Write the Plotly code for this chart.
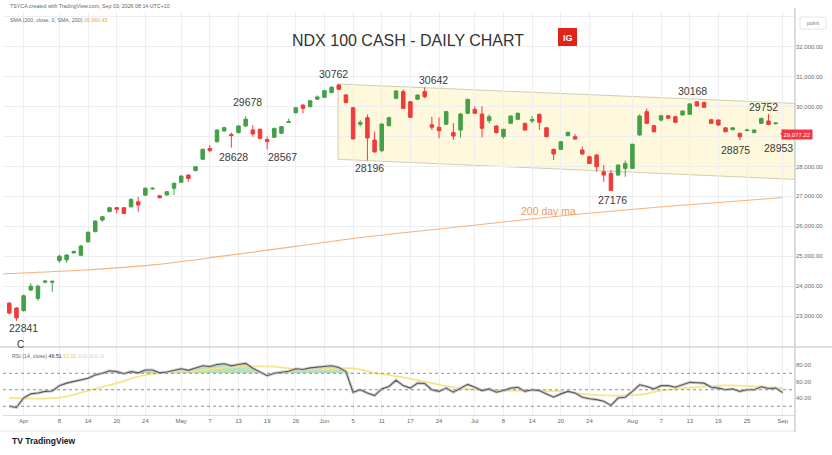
import plotly.graph_objects as go

W, H = 832, 455
GREEN = "#43a047"
RED = "#ef3b3b"

# ---------------- data ----------------
opens = [23430, 23270, 23180, 23870, 23590, 24130, 24130, 24850, 24880, 25110,
         25030, 25480, 25820, 26210, 26490, 26620, 26620, 26650, 26820, 27040,
         27250, 27020, 27045, 27270, 27470, 27712, 27860, 28240, 28600, 28825,
         29185, 29070, 29130, 29350, 29220, 29240, 28900, 28975, 29110, 29470,
         29795, 30050, 29995, 30245, 30310, 30465, 30720, 30390, 29960, 29410,
         29630, 28880, 28525, 29360, 30275, 30500, 30160, 30245, 30500, 29390,
         29310, 29410, 29130, 29215, 29775, 29910, 29750, 29530, 29350, 28995,
         29440, 29575, 29440, 29520, 29740, 29290, 28570, 28570, 29030, 28995,
         28550, 28325, 28380, 27820, 27770, 27712, 27935, 27935, 29050, 29830,
         29360, 29550, 29690, 29660, 29720, 29740, 30160, 30140, 29560, 29550,
         29290, 29230, 29105, 29200, 29130, 29440, 29520, 29430, 29110]
highs = [23470, 23300, 23720, 24100, 24050, 24200, 24190, 25050, 25060, 25180,
         25380, 25830, 26200, 26340, 26650, 26650, 26640, 26930, 26987, 27300,
         27300, 27050, 27170, 27460, 27700, 27740, 28010, 28600, 28715, 29240,
         29320, 29130, 29380, 29678, 29380, 29270, 29000, 29300, 29350, 29600,
         29980, 30080, 30210, 30370, 30560, 30680, 30762, 30420, 29980, 29540,
         29740, 29160, 29440, 29660, 30550, 30576, 30190, 30400, 30642, 29660,
         29640, 29860, 29450, 29790, 30260, 30010, 30010, 29740, 29380, 29260,
         29700, 29800, 29460, 29680, 29770, 29310, 28600, 28840, 29160, 29080,
         28660, 28350, 28420, 28045, 27880, 28070, 28200, 28760, 29740, 29940,
         29380, 29720, 29720, 29690, 29870, 30110, 30168, 30160, 29590, 29570,
         29310, 29310, 29130, 29260, 29240, 29630, 29752, 29470, 29240]
lows = [23060, 22841, 23150, 23830, 23510, 24100, 23810, 24780, 24780, 25090,
        25000, 25460, 25800, 26150, 26470, 26430, 26420, 26630, 26486, 27020,
        27220, 26930, 27030, 27045, 27450, 27490, 27840, 28220, 28490, 28800,
        29160, 28628, 29100, 29330, 28990, 28900, 28567, 28950, 29090, 29450,
        29770, 29775, 29980, 30230, 30290, 30450, 30550, 30100, 28900, 29340,
        28196, 28450, 28470, 29340, 30250, 29920, 29620, 30220, 30280, 29215,
        28940, 29390, 28890, 28970, 29760, 29760, 28970, 29440, 29100, 28930,
        29420, 29555, 29200, 29450, 29216, 28970, 28215, 28550, 29010, 28900,
        28380, 28080, 27820, 27490, 27176, 27690, 27655, 27920, 29030, 29420,
        29140, 29500, 29580, 29450, 29700, 29720, 30000, 29960, 29420, 29360,
        29140, 29200, 28875, 29170, 29110, 29420, 29380, 29400, 28953]
closes = [23100, 22940, 23680, 24000, 24000, 24170, 24160, 25000, 25040, 25160,
          25340, 25800, 26175, 26320, 26620, 26570, 26430, 26900, 26710, 27270,
          27270, 26955, 27155, 27435, 27680, 27600, 27990, 28570, 28525, 29215,
          29295, 29030, 29350, 29580, 29085, 28940, 28830, 29270, 29330, 29500,
          29960, 29940, 30195, 30320, 30530, 30645, 30580, 30140, 28920, 29470,
          28950, 28490, 29415, 29630, 30520, 29940, 29640, 30385, 30330, 29310,
          29195, 29830, 29015, 29750, 30240, 29775, 29275, 29660, 29130, 29240,
          29685, 29775, 29215, 29570, 29475, 28995, 28415, 28825, 29140, 28915,
          28415, 28100, 27990, 27710, 27200, 28045, 28100, 28740, 29685, 29440,
          29160, 29695, 29610, 29475, 29850, 30090, 30020, 29975, 29440, 29385,
          29160, 29290, 28990, 29215, 29215, 29605, 29405, 29450, 29077.22]

rsi = [30, 28.5, 40, 45, 46, 48, 48.5, 55, 58, 60,
       62, 64, 68, 70, 73, 72, 69.5, 72, 70.5, 74,
       74, 70.5, 71.5, 73.5, 75.5, 73.5, 76, 79, 78, 80.5,
       81.5, 79, 80.5, 82, 76, 72, 67, 70, 71, 72.5,
       75.5, 74.5, 76.5, 77.5, 78.5, 79, 77, 72, 47, 50,
       46, 43, 51, 54, 61.5, 55, 52, 58, 57.5, 50,
       48, 52, 47, 52, 56.5, 53, 49, 51, 47, 49,
       52, 53, 48, 50, 49, 45, 41, 45, 48, 46,
       41, 39, 38, 36, 31, 40, 41, 48, 56, 54,
       51, 55, 55, 53, 56, 59, 58.5, 58, 53, 52,
       50, 51, 48, 50, 50, 53.5, 51.5, 52, 46.51]

rsi_ma_idx = [0, 7, 11, 15, 18, 22, 26, 29, 33, 37, 40, 44, 48, 51, 55, 59, 62, 66,
              70, 73, 77, 80, 84, 88, 91, 95, 99, 102, 106, 108]
rsi_ma_val = [40, 40.5, 49, 58, 66, 71, 73, 76, 78, 78, 75, 75, 76, 70.5, 65, 58, 53, 50,
              49, 49, 48, 45, 43, 44, 49, 52.5, 55, 55, 53, 52]

ma_idx = [-1, 0, 10, 20, 30, 40, 50, 60, 70, 80, 90, 100, 108]
ma_val = [24405, 24420, 24530, 24710, 25010, 25330, 25650, 25910, 26170, 26420, 26630, 26810, 26960]

channel_x = [45.9, 109.7]
channel_top = [30753, 30108]
channel_bottom = [28237, 27568]

tick_idx = [2, 7, 11, 15, 19, 24, 28, 32, 36, 40, 44, 48, 52, 56, 60, 65, 69, 73, 77, 81,
            87, 91, 95, 99, 103, 108]
tick_text = ["Apr", "8", "14", "20", "24", "May", "7", "13", "19", "26", "Jun", "5", "11",
             "17", "24", "Jul", "8", "14", "20", "24", "Aug", "7", "13", "19", "25", "Sep"]

price_ticks = [23000, 24000, 25000, 26000, 27000, 28000, 29000, 30000, 31000, 32000, 33000]
# 29,000 label is hidden behind the last-price tag, 33,000 behind the "point" box
price_text = ["23,000.00", "24,000.00", "25,000.00", "26,000.00", "27,000.00", "28,000.00",
              "", "30,000.00", "31,000.00", "32,000.00", ""]

# label: (candle index, price, text, xshift, yshift)
point_labels = [
    (1, 22841, "22841", 7.5, -7),
    (31, 28628, "28628", 1.7, -9.7),
    (36, 28567, "28567", 15.4, -7.3),
    (33, 29678, "29678", 1.4, 14.5),
    (46, 30762, "30762", -5.7, 9.7),
    (58, 30642, "30642", 8.4, 7.3),
    (50, 28196, "28196", 1.7, -7.8),
    (84, 27176, "27176", 1.8, -9),
    (96, 30168, "30168", -4.2, 10.8),
    (106, 29752, "29752", -4.8, 7.3),
    (102, 28875, "28875", -4.6, -9.8),
    (108, 28953, "28953", -4.6, -10.4),
]

idx = list(range(len(closes)))
FONT = "Liberation Sans, Arial, sans-serif"


def px(x):
    return x / W


def py(y):
    return 1 - y / H


X_DOM = [px(3), px(795)]
Y_MAIN = [py(346), py(12)]
Y_RSI = [py(415), py(348)]

fig = go.Figure()

# main pane
fig.add_trace(go.Scatter(x=ma_idx, y=ma_val, mode="lines", line=dict(color="rgba(245,170,110,0.9)", width=1.1, shape="spline"),
                         xaxis="x", yaxis="y", showlegend=False, hoverinfo="skip"))
fig.add_trace(go.Candlestick(x=idx, open=opens, high=highs, low=lows, close=closes,
                             increasing=dict(line=dict(color=GREEN, width=1), fillcolor=GREEN),
                             decreasing=dict(line=dict(color=RED, width=1), fillcolor=RED),
                             whiskerwidth=0, xaxis="x", yaxis="y", showlegend=False, hoverinfo="skip"))

# RSI pane
fig.add_trace(go.Scatter(x=idx, y=[70] * len(idx), mode="lines", line=dict(width=0, color="rgba(0,0,0,0)"),
                         xaxis="x", yaxis="y2", showlegend=False, hoverinfo="skip"))
fig.add_trace(go.Scatter(x=idx, y=[max(v, 70) for v in rsi], mode="lines", line=dict(width=0, color="rgba(0,0,0,0)"),
                         fill="tonexty", fillcolor="rgba(102,187,106,0.45)",
                         xaxis="x", yaxis="y2", showlegend=False, hoverinfo="skip"))
fig.add_trace(go.Scatter(x=rsi_ma_idx, y=rsi_ma_val, mode="lines",
                         line=dict(color="rgba(246,228,130,0.95)", width=1.8, shape="spline"),
                         xaxis="x", yaxis="y2", showlegend=False, hoverinfo="skip"))
fig.add_trace(go.Scatter(x=idx, y=rsi, mode="lines", line=dict(color="#cfcfcf", width=3),
                         xaxis="x", yaxis="y2", showlegend=False, hoverinfo="skip"))
fig.add_trace(go.Scatter(x=idx, y=rsi, mode="lines", line=dict(color="#5a5a5a", width=1.1),
                         xaxis="x", yaxis="y2", showlegend=False, hoverinfo="skip"))

shapes = []
# channel
shapes.append(dict(type="path", xref="x", yref="y", layer="below",
                   path=f"M {channel_x[0]},{channel_top[0]} L {channel_x[1]},{channel_top[1]} "
                        f"L {channel_x[1]},{channel_bottom[1]} L {channel_x[0]},{channel_bottom[0]} Z",
                   fillcolor="rgba(253,246,205,0.7)", line=dict(color="rgba(170,160,115,0.5)", width=1)))
# RSI band lines
for lvl in (70, 50, 30):
    shapes.append(dict(type="line", xref="x domain", yref="y2", x0=0, x1=1, y0=lvl, y1=lvl,
                       line=dict(color="#8c8c8c", width=1, dash="dot")))
# separators
shapes.append(dict(type="line", xref="paper", yref="paper", x0=0, x1=1, y0=py(347), y1=py(347),
                   line=dict(color="#d4d4d4", width=1.5)))
shapes.append(dict(type="line", xref="paper", yref="paper", x0=px(795), x1=px(795), y0=py(432), y1=py(8),
                   line=dict(color="#cfcfcf", width=1.5)))
shapes.append(dict(type="line", xref="paper", yref="paper", x0=0, x1=px(795), y0=py(431), y1=py(431),
                   line=dict(color="#e2e2e2", width=1)))
# IG logo box
shapes.append(dict(type="rect", xref="paper", yref="paper", x0=px(558), x1=px(577), y0=py(46), y1=py(28),
                   fillcolor="#e2231a", line=dict(width=0)))
# point box
shapes.append(dict(type="rect", xref="paper", yref="paper", x0=px(800), x1=px(826), y0=py(29), y1=py(17),
                   fillcolor="white", line=dict(color="#e6e6e6", width=1)))

annotations = []
for i, p, t, dx, dy in point_labels:
    annotations.append(dict(x=i, y=p, xref="x", yref="y", text=t, showarrow=False,
                            xshift=dx, yshift=dy, font=dict(family=FONT, size=10.5, color="#3a3a3a")))


def paper_text(x, y, text, size, color, xanchor="center", bold=False, **kw):
    annotations.append(dict(x=px(x), y=py(y), xref="paper", yref="paper", text=(f"<b>{text}</b>" if bold else text),
                            showarrow=False, xanchor=xanchor, yanchor="middle",
                            font=dict(family=FONT, size=size, color=color), **kw))


paper_text(407.5, 40, "NDX 100 CASH - DAILY CHART", 16, "#333333")
paper_text(567.5, 37.5, "IG", 9, "white", bold=True)
paper_text(8, 6.5, "TSYCA created with TradingView.com, Sep 03, 2026 08:14 UTC+10", 5.3, "#666666", xanchor="left")
paper_text(8, 20, "SMA (200, close, 0, SMA, 200) <span style='color:#f5a04a'>26,960.45</span>", 5.3, "#666666",
           xanchor="left")
paper_text(10, 356, "RSI (14, close) <span style='color:#333'>46.51</span> "
                    "<span style='color:#e8cc3c'>52.02</span> <span style='color:#bbb'>∅ ∅ ∅ ∅ ∅</span>",
           5.3, "#666666", xanchor="left")
paper_text(548, 211, "200 day ma", 10.5, "#f29b55")
paper_text(20, 344, "C", 10, "#333333")
paper_text(813, 23, "point", 5.5, "#777777")
paper_text(10, 441, "TV TradingView", 8.5, "#131722", xanchor="left", bold=True)
annotations.append(dict(x=px(813), y=closes[-1], xref="paper", yref="y", text=f"{closes[-1]:,.2f}",
                        showarrow=False, bgcolor="#f23645", borderpad=1.5,
                        font=dict(family=FONT, size=6, color="white")))

grid = "#eceef2"
fig.update_layout(
    width=W, height=H, margin=dict(l=0, r=0, t=0, b=0),
    paper_bgcolor="white", plot_bgcolor="white", showlegend=False,
    shapes=shapes, annotations=annotations,
    xaxis=dict(domain=X_DOM, range=[-0.88, 109.7], anchor="y2", tickmode="array", tickvals=tick_idx,
               ticktext=tick_text, tickfont=dict(family=FONT, size=6, color="#666666"), showgrid=True,
               gridcolor=grid, gridwidth=1, zeroline=False, showline=True, linecolor="#dcdcdc",
               ticks="", rangeslider=dict(visible=False), fixedrange=True),
    yaxis=dict(domain=Y_MAIN, range=[22000, 33160], side="right", anchor="x", tickmode="array",
               tickvals=price_ticks, ticktext=price_text, tickfont=dict(family=FONT, size=6, color="#6b6b6b"),
               showgrid=True, gridcolor=grid, gridwidth=1, zeroline=False, ticks="", fixedrange=True),
    yaxis2=dict(domain=Y_RSI, range=[19.4, 100.6], side="right", anchor="x", tickmode="array",
                tickvals=[40, 60, 80], ticktext=["40.00", "60.00", "80.00"],
                tickfont=dict(family=FONT, size=6, color="#6b6b6b"),
                showgrid=False, zeroline=False, ticks="", fixedrange=True),
)

fig.write_html("out.html", config={"displayModeBar": False},
               post_script="document.body.style.margin='0';document.body.style.overflow='hidden';")
